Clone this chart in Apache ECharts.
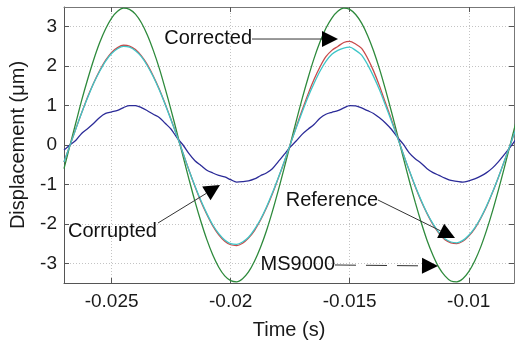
<!DOCTYPE html>
<html><head><meta charset="utf-8">
<script src="https://cdn.jsdelivr.net/npm/echarts@6/dist/echarts.min.js"></script>
<style>html,body{margin:0;padding:0;background:#fff}#c{width:515px;height:342px}</style>
</head><body><div id="c"></div>
<script>
// ---- data ----
const time = [-0.02700,-0.02675,-0.02650,-0.02625,-0.02600,-0.02575,-0.02550,-0.02525,-0.02500,-0.02475,-0.02450,-0.02425,-0.02400,-0.02375,-0.02350,-0.02325,-0.02300,-0.02275,-0.02250,-0.02225,-0.02200,-0.02175,-0.02150,-0.02125,-0.02100,-0.02075,-0.02050,-0.02025,-0.02000,-0.01975,-0.01950,-0.01925,-0.01900,-0.01875,-0.01850,-0.01825,-0.01800,-0.01775,-0.01750,-0.01725,-0.01700,-0.01675,-0.01650,-0.01625,-0.01600,-0.01575,-0.01550,-0.01525,-0.01500,-0.01475,-0.01450,-0.01425,-0.01400,-0.01375,-0.01350,-0.01325,-0.01300,-0.01275,-0.01250,-0.01225,-0.01200,-0.01175,-0.01150,-0.01125,-0.01100,-0.01075,-0.01050,-0.01025,-0.01000,-0.00975,-0.00950,-0.00925,-0.00900,-0.00875,-0.00850,-0.00825,-0.00800];
const ms9000 = [-0.60,-0.01,0.57,1.15,1.68,2.17,2.60,2.95,3.22,3.39,
  3.47,3.44,3.32,3.10,2.79,2.40,1.95,1.43,0.88,0.30,
  -0.29,-0.87,-1.43,-1.94,-2.40,-2.79,-3.10,-3.32,-3.44,-3.47,
  -3.39,-3.22,-2.95,-2.60,-2.18,-1.69,-1.15,-0.58,0.01,0.60,
  1.17,1.70,2.19,2.61,2.96,3.22,3.39,3.47,3.44,3.31,
  3.09,2.78,2.39,1.93,1.41,0.85,0.27,-0.32,-0.90,-1.45,
  -1.96,-2.42,-2.80,-3.11,-3.32,-3.45,-3.47,-3.39,-3.21,-2.94,
  -2.59,-2.16,-1.67,-1.13,-0.56,0.03,0.62];
const corrected = [-0.43,-0.01,0.42,0.83,1.23,1.58,1.89,2.15,2.35,2.47,
  2.53,2.51,2.42,2.26,2.04,1.75,1.42,1.04,0.64,0.22,
  -0.21,-0.64,-1.05,-1.43,-1.76,-2.05,-2.28,-2.44,-2.53,-2.55,
  -2.49,-2.36,-2.17,-1.91,-1.60,-1.24,-0.84,-0.43,0.01,0.45,
  0.88,1.29,1.66,1.98,2.24,2.40,2.50,2.60,2.63,2.56,
  2.45,2.20,1.88,1.50,1.07,0.65,0.21,-0.23,-0.65,-1.05,
  -1.42,-1.74,-2.02,-2.24,-2.40,-2.48,-2.50,-2.44,-2.31,-2.12,
  -1.86,-1.56,-1.20,-0.81,-0.40,0.02,0.45];
const reference = [-0.43,-0.01,0.41,0.83,1.21,1.57,1.87,2.13,2.32,2.44,
  2.50,2.48,2.39,2.24,2.01,1.73,1.40,1.03,0.63,0.22,
  -0.21,-0.64,-1.04,-1.41,-1.74,-2.03,-2.25,-2.41,-2.50,-2.52,
  -2.46,-2.34,-2.14,-1.89,-1.58,-1.22,-0.83,-0.42,0.01,0.43,
  0.83,1.22,1.56,1.87,2.12,2.30,2.40,2.46,2.48,2.40,
  2.28,2.04,1.74,1.40,1.01,0.61,0.20,-0.23,-0.64,-1.04,
  -1.40,-1.73,-2.00,-2.22,-2.38,-2.46,-2.48,-2.42,-2.29,-2.10,
  -1.85,-1.54,-1.19,-0.81,-0.40,0.02,0.44];
const corrupted = [-0.13,0.00,0.12,0.30,0.42,0.55,0.70,0.80,0.84,0.88,0.95,1.00,1.00,0.95,0.87,0.78,0.70,0.55,0.40,0.18,0.00,
  -0.22,-0.40,-0.52,-0.64,-0.71,-0.77,-0.81,-0.88,-0.94,-0.93,-0.91,-0.86,-0.78,-0.71,-0.60,-0.42,-0.24,-0.05,
  0.10,0.27,0.40,0.52,0.68,0.78,0.83,0.87,0.94,1.00,0.99,0.94,0.87,0.80,0.69,0.56,0.40,0.20,0.02,
  -0.20,-0.35,-0.46,-0.60,-0.70,-0.77,-0.84,-0.90,-0.92,-0.94,-0.91,-0.86,-0.79,-0.70,-0.58,-0.42,-0.24,-0.05,0.16];
const xTicks = [-0.025,-0.02,-0.015,-0.01];
const yTicks = [-3,-2,-1,0,1,2,3];
const seriesNames = ['MS9000','Corrupted','Corrected','Reference'];
const annotationLabels = ['Corrected','Corrupted','Reference','MS9000'];
// annotation anchors in data coordinates [time, displacement]
const annotationText = [[-0.019104,2.70],[-0.026832,-2.206],[-0.013812,-1.395],[-0.015618,-3.043]];
const annotationFrom = [[-0.019104,2.688],[-0.023052,-1.978],[-0.013812,-1.395],[-0.015618,-3.043]];
const annotationTo   = [[-0.015492,2.688],[-0.020448,-1.014],[-0.010578,-2.358],[-0.011292,-3.069]];

// ---- chart ----
const FONT = '"Liberation Sans", Arial, sans-serif';
const pair = (xs, ys) => xs.map((x, i) => [x, ys[i]]);
const chart = echarts.init(document.getElementById('c'), null, {renderer: 'canvas'});
const baseX = {type:'value', min:-0.027, max:-0.0081};
const baseY = {type:'value', min:-3.5, max:3.5};
const tickStyle = {show:true, inside:true, length:5, lineStyle:{color:'#555', width:1}};
const mkLine = (name, data, color) => ({
  name, type:'line', data, smooth:0.3, showSymbol:false, symbol:'none',
  lineStyle:{color, width:1.3}, itemStyle:{color}, animation:false, z:3
});
chart.setOption({
  animation:false,
  backgroundColor:'#fff',
  grid:{left:64, top:7, right:1, bottom:59, containLabel:false, outerBoundsMode:'none'},
  xAxis:[
    Object.assign({}, baseX, {
      position:'bottom',
      name:'Time (s)', nameLocation:'middle', nameGap:37,
      nameTextStyle:{fontFamily:FONT, fontSize:20, color:'#1a1a1a'},
      axisLine:{show:true, onZero:false, lineStyle:{color:'#555', width:1}},
      axisTick:Object.assign({customValues:xTicks}, tickStyle),
      axisLabel:{customValues:xTicks, fontFamily:FONT, fontSize:19, color:'#1a1a1a', margin:9, formatter:(v)=>String(v)},
      splitLine:{show:true, lineStyle:{color:'#c4c4c4', type:[1,2], width:1}}
    }),
    Object.assign({}, baseX, {
      position:'top',
      axisLine:{show:true, onZero:false, lineStyle:{color:'#777', width:1}},
      axisTick:Object.assign({customValues:xTicks}, tickStyle),
      axisLabel:{show:false}, splitLine:{show:false}
    })
  ],
  yAxis:[
    Object.assign({}, baseY, {
      position:'left',
      name:'Displacement (μm)', nameLocation:'middle', nameGap:36, nameRotate:90,
      nameTextStyle:{fontFamily:FONT, fontSize:20, color:'#1a1a1a'},
      axisLine:{show:true, onZero:false, lineStyle:{color:'#555', width:1}},
      axisTick:Object.assign({customValues:yTicks}, tickStyle),
      axisLabel:{customValues:yTicks, fontFamily:FONT, fontSize:19, color:'#1a1a1a', margin:7},
      splitLine:{show:true, lineStyle:{color:'#c4c4c4', type:[1,2], width:1}}
    }),
    Object.assign({}, baseY, {
      position:'right',
      axisLine:{show:true, onZero:false, lineStyle:{color:'#777', width:1}},
      axisTick:Object.assign({customValues:yTicks}, tickStyle),
      axisLabel:{show:false}, splitLine:{show:false}
    })
  ],
  series:[
    mkLine(seriesNames[0], pair(time, ms9000), '#2e8a3c'),
    mkLine(seriesNames[1], pair(time, corrupted), '#2b2b98'),
    mkLine(seriesNames[2], pair(time, corrected), '#c84a4a'),
    mkLine(seriesNames[3], pair(time, reference), '#3ec6c8')
  ]
});

// annotations with arrows, anchored in data coordinates
const graphics = [];
annotationLabels.forEach((label, i) => {
  const p0 = chart.convertToPixel({gridIndex:0}, annotationFrom[i]);
  const p1 = chart.convertToPixel({gridIndex:0}, annotationTo[i]);
  const pt = chart.convertToPixel({gridIndex:0}, annotationText[i]);
  const dx = p1[0]-p0[0], dy = p1[1]-p0[1], L = Math.hypot(dx, dy);
  const ux = dx/L, uy = dy/L, hl = 16, hw = 8;
  const bx = p1[0]-ux*hl, by = p1[1]-uy*hl;
  const align = (label === 'Corrupted') ? 'left' : 'right';
  graphics.push({type:'line', z:100, shape:{x1:p0[0], y1:p0[1], x2:bx, y2:by},
    style:{stroke:'#333', lineWidth:1, lineDash:(label === 'MS9000') ? [21, 10] : null}});
  graphics.push({type:'polygon', z:101, shape:{points:[[p1[0],p1[1]],[bx-uy*hw,by+ux*hw],[bx+uy*hw,by-ux*hw]]},
    style:{fill:'#000'}});
  graphics.push({type:'text', z:102, x:pt[0], y:pt[1],
    style:{text:label, font:'20px ' + FONT, fill:'#111', align:align, verticalAlign:'middle', textAlign:align, textVerticalAlign:'middle'}});
});
chart.setOption({graphic:graphics});
</script>
</body></html>
